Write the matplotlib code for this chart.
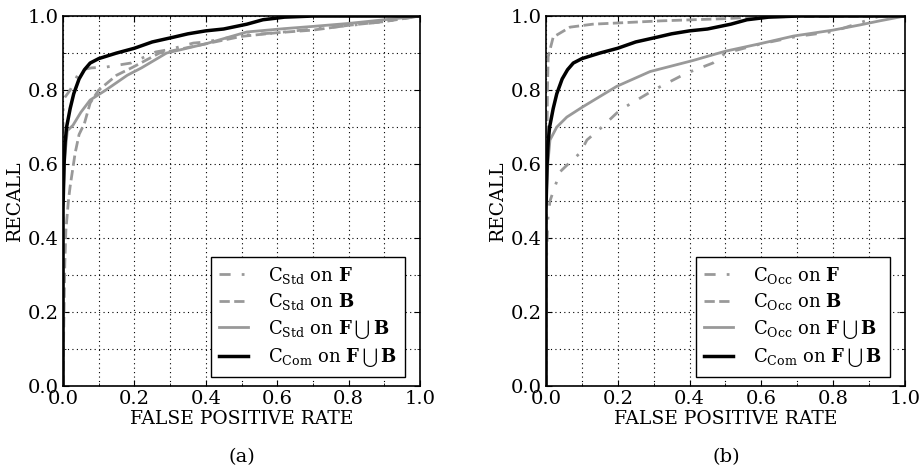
import matplotlib
matplotlib.use("Agg")
import matplotlib.pyplot as plt
from matplotlib.ticker import MultipleLocator

plt.rcParams['font.family'] = 'DejaVu Serif'
plt.rcParams['mathtext.fontset'] = 'dejavuserif'

# C_Com on F u B (same curve in both panels)
com_fpr = [0.0, 0.0, 0.003, 0.006, 0.01, 0.02, 0.03, 0.045, 0.06, 0.076, 0.1, 0.15, 0.2, 0.25, 0.31, 0.35, 0.4, 0.45, 0.515, 0.56, 0.62, 0.7, 1.0]
com_rec = [0.0, 0.48, 0.6, 0.66, 0.70, 0.75, 0.79, 0.83, 0.855, 0.873, 0.885, 0.90, 0.913, 0.93, 0.943, 0.952, 0.96, 0.965, 0.978, 0.99, 0.997, 1.0, 1.0]

# (a) C_Std
std_f_fpr = [0.0, 0.0, 0.005, 0.02, 0.048, 0.08, 0.12, 0.19, 0.26, 0.3, 0.365, 0.4, 0.5, 0.6, 0.7, 0.8, 0.9, 1.0]
std_f_rec = [0.0, 0.746, 0.78, 0.80, 0.854, 0.86, 0.862, 0.873, 0.903, 0.91, 0.927, 0.93, 0.948, 0.955, 0.965, 0.974, 0.985, 1.0]

std_b_fpr = [0.0, 0.002, 0.005, 0.008, 0.015, 0.02, 0.034, 0.045, 0.06, 0.076, 0.1, 0.15, 0.196, 0.27, 0.3, 0.4, 0.5, 0.6, 0.7, 0.8, 0.9, 1.0]
std_b_rec = [0.0, 0.15, 0.33, 0.42, 0.50, 0.54, 0.63, 0.68, 0.71, 0.765, 0.80, 0.84, 0.862, 0.90, 0.905, 0.925, 0.945, 0.955, 0.962, 0.975, 0.985, 1.0]

std_fb_fpr = [0.0, 0.0, 0.005, 0.012, 0.028, 0.05, 0.076, 0.12, 0.18, 0.22, 0.29, 0.4, 0.515, 0.62, 0.7, 0.8, 0.9, 1.0]
std_fb_rec = [0.0, 0.5, 0.62, 0.69, 0.705, 0.74, 0.773, 0.80, 0.84, 0.86, 0.90, 0.925, 0.957, 0.966, 0.972, 0.98, 0.99, 1.0]

# (b) C_Occ
occ_f_fpr = [0.0, 0.0, 0.005, 0.011, 0.025, 0.04, 0.067, 0.095, 0.114, 0.15, 0.206, 0.3, 0.39, 0.465, 0.5, 0.6, 0.7, 0.8, 0.9, 0.93, 1.0]
occ_f_rec = [0.0, 0.3, 0.45, 0.50, 0.54, 0.58, 0.605, 0.63, 0.665, 0.695, 0.746, 0.80, 0.845, 0.873, 0.90, 0.925, 0.945, 0.958, 0.99, 1.0, 1.0]

occ_b_fpr = [0.0, 0.0, 0.002, 0.004, 0.006, 0.02, 0.067, 0.13, 0.32, 0.5, 0.6, 1.0]
occ_b_rec = [0.0, 0.3, 0.6, 0.8, 0.89, 0.943, 0.97, 0.978, 0.987, 0.993, 0.998, 1.0]

occ_fb_fpr = [0.0, 0.0, 0.005, 0.011, 0.03, 0.058, 0.103, 0.197, 0.29, 0.41, 0.5, 0.6, 0.69, 0.8, 0.875, 0.93, 1.0]
occ_fb_rec = [0.0, 0.5, 0.6, 0.665, 0.70, 0.727, 0.755, 0.81, 0.85, 0.88, 0.905, 0.926, 0.946, 0.962, 0.976, 0.987, 1.0]

gray = '#999999'
dashdot = (0, (4, 4, 1, 4))


def style_axes(ax):
    ax.set_xlim(0, 1)
    ax.set_ylim(0, 1)
    ax.xaxis.set_major_locator(MultipleLocator(0.2))
    ax.yaxis.set_major_locator(MultipleLocator(0.2))
    ax.xaxis.set_minor_locator(MultipleLocator(0.1))
    ax.yaxis.set_minor_locator(MultipleLocator(0.1))
    ax.grid(True, which='both', color='black', linestyle=(0, (1, 3)), linewidth=0.8)
    ax.tick_params(which='both', direction='in', top=True, right=True, labelsize=14, pad=3)
    ax.tick_params(which='major', length=4)
    ax.tick_params(which='minor', length=2)
    ax.set_xlabel('FALSE POSITIVE RATE', fontsize=13.5, labelpad=1)
    ax.set_ylabel('RECALL', fontsize=13.5, labelpad=3)
    for s in ax.spines.values():
        s.set_linewidth(1.2)
    leg = ax.legend(loc='lower right', bbox_to_anchor=(1 - 15 / 357, 9 / 370),
                    borderaxespad=0, fontsize=13, fancybox=False, framealpha=1,
                    edgecolor='black', handlelength=1.6,
                    labelspacing=0.3, handletextpad=1.1, borderpad=0.45)
    leg.get_frame().set_linewidth(1)


fig = plt.figure(figsize=(9.2, 4.72), dpi=100)
ax1 = fig.add_axes([0.0685, 0.182, 0.388, 0.784])
ax2 = fig.add_axes([0.5935, 0.182, 0.390, 0.784])

ax1.plot(std_f_fpr, std_f_rec, color=gray, lw=2, linestyle=dashdot,
         label=r'$\mathrm{C}_{\mathrm{Std}}$ on $\mathbf{F}$')
ax1.plot(std_b_fpr, std_b_rec, color=gray, lw=2, linestyle='--',
         label=r'$\mathrm{C}_{\mathrm{Std}}$ on $\mathbf{B}$')
ax1.plot(std_fb_fpr, std_fb_rec, color=gray, lw=2, linestyle='-',
         label=r'$\mathrm{C}_{\mathrm{Std}}$ on $\mathbf{F}\,\bigcup\,\mathbf{B}$')
ax1.plot(com_fpr, com_rec, color='black', lw=2.5, linestyle='-',
         label=r'$\mathrm{C}_{\mathrm{Com}}$ on $\mathbf{F}\,\bigcup\,\mathbf{B}$')
style_axes(ax1)

ax2.plot(occ_f_fpr, occ_f_rec, color=gray, lw=2, linestyle=dashdot,
         label=r'$\mathrm{C}_{\mathrm{Occ}}$ on $\mathbf{F}$')
ax2.plot(occ_b_fpr, occ_b_rec, color=gray, lw=2, linestyle='--',
         label=r'$\mathrm{C}_{\mathrm{Occ}}$ on $\mathbf{B}$')
ax2.plot(occ_fb_fpr, occ_fb_rec, color=gray, lw=2, linestyle='-',
         label=r'$\mathrm{C}_{\mathrm{Occ}}$ on $\mathbf{F}\,\bigcup\,\mathbf{B}$')
ax2.plot(com_fpr, com_rec, color='black', lw=2.5, linestyle='-',
         label=r'$\mathrm{C}_{\mathrm{Com}}$ on $\mathbf{F}\,\bigcup\,\mathbf{B}$')
style_axes(ax2)

fig.text(0.2625, 0.022, '(a)', ha='center', fontsize=14)
fig.text(0.789, 0.022, '(b)', ha='center', fontsize=14)

fig.savefig('out.png', dpi=100)
